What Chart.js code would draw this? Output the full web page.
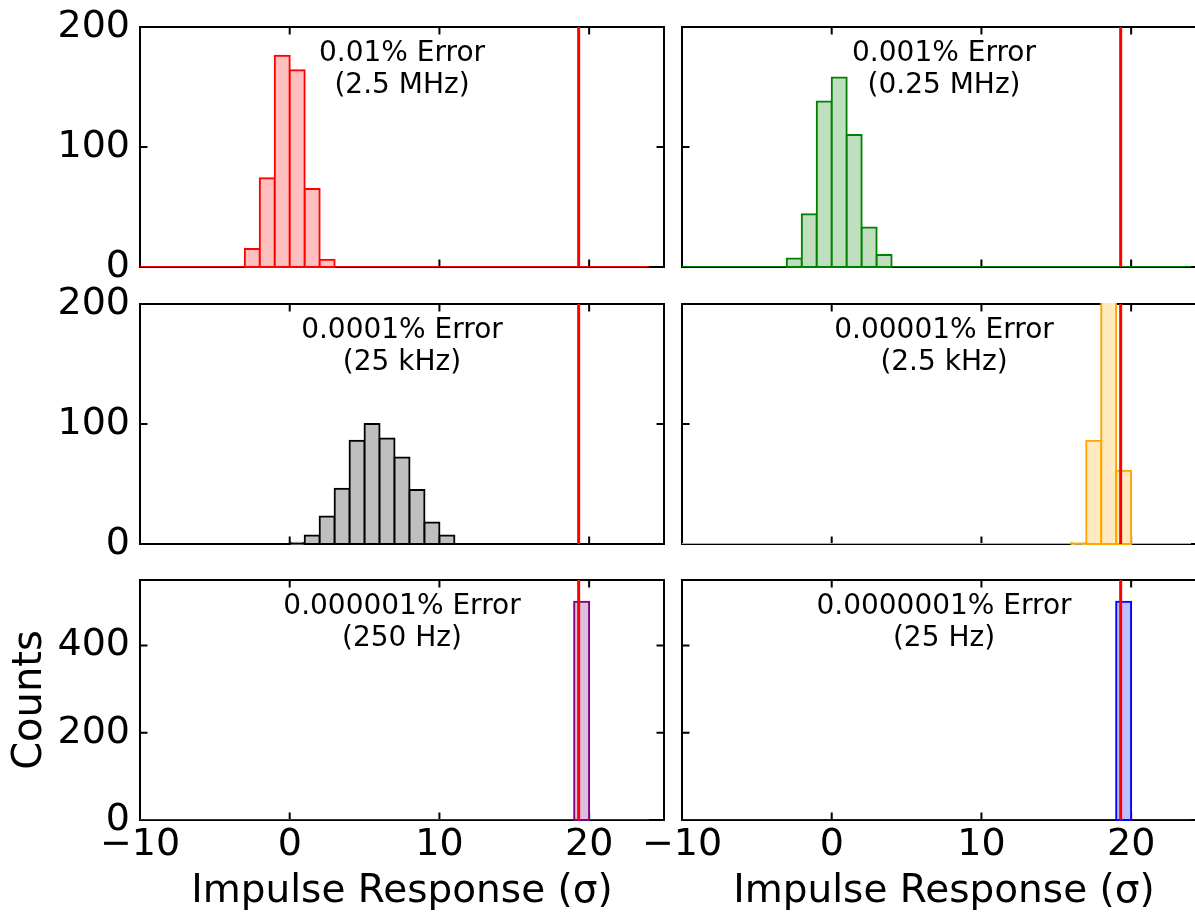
<!DOCTYPE html>
<html>
<head>
<meta charset="utf-8">
<script src="https://cdn.jsdelivr.net/npm/chart.js@4.4.1/dist/chart.umd.min.js"></script>
<style>
  html, body { margin: 0; padding: 0; background: #fff; overflow: hidden; width: 1195px; height: 912px; }
  canvas { position: absolute; left: 0; top: -60px; }
</style>
</head>
<body>
<canvas id="p0" width="1220" height="1020"></canvas>
<canvas id="p1" width="1220" height="1020"></canvas>
<canvas id="p2" width="1220" height="1020"></canvas>
<canvas id="p3" width="1220" height="1020"></canvas>
<canvas id="p4" width="1220" height="1020"></canvas>
<canvas id="p5" width="1220" height="1020"></canvas>
<script>
// ---- data ----
// unit-width histogram bins covering [-10, 24)
const binRange = [-10, 24];
const xLimits = [-10, 25];
const thresholdSigma = 19.3;            // detection threshold (vertical line)

// counts of each non-empty run of bins, with the left edge of its first bin
const counts_1e2 = [15, 74, 176, 164, 65, 6];      const start_1e2 = -3;
const counts_1e3 = [7, 44, 138, 158, 110, 33, 10]; const start_1e3 = -3;
const counts_1e4 = [1, 7, 23, 46, 86, 100, 88, 72, 45, 18, 7]; const start_1e4 = 0;
const counts_1e5 = [1, 86, 352, 61];               const start_1e5 = 16;
const counts_1e6 = [500];                          const start_1e6 = 19;
const counts_1e7 = [500];                          const start_1e7 = 19;

const errorLabels = ['0.01% Error', '0.001% Error', '0.0001% Error', '0.00001% Error', '0.000001% Error', '0.0000001% Error'];
const rateLabels  = ['(2.5 MHz)', '(0.25 MHz)', '(25 kHz)', '(2.5 kHz)', '(250 Hz)', '(25 Hz)'];

const xTicks = [-10, 0, 10, 20];
const xTickLabels = ['\u221210', '0', '10', '20'];
const yTicksSmall = [0, 100, 200];
const yTickLabelsSmall = ['0', '100', '200'];
const yTicksLarge = [0, 200, 400];
const yTickLabelsLarge = ['0', '200', '400'];
const yMaxByRow = [200, 200, 550];

const xTitle = 'Impulse Response (\u03c3)';
const yTitle = 'Counts';

// ---- styling ----
const edgeColors = ['#ff0000', '#008000', '#000000', '#ffa500', '#800080', '#0000ff'];
const fillColors = ['#ffbfbf', '#bfdfbf', '#bfbfbf', '#ffe9bf', '#dfbfdf', '#bfbfff'];
const panelCounts = [counts_1e2, counts_1e3, counts_1e4, counts_1e5, counts_1e6, counts_1e7];
const panelStarts = [start_1e2, start_1e3, start_1e4, start_1e5, start_1e6, start_1e7];

// ---- layout (pixels) ----
// canvases sit 60px above the page so the top row has room for its tick labels
const CANVAS_W = 1220, CANVAS_H = 1020, SHIFT = 60;
const colLeft = [140, 682], plotW = 524;
const rowTop = [27, 304, 580], plotH = 240;
const Y_AXIS_W = 136, X_AXIS_H = 100;
const FONT = '"DejaVu Sans", sans-serif';

Chart.defaults.font.family = FONT;
Chart.defaults.color = '#000';

function histogramData(counts, start) {
  const pts = [];
  for (let e = binRange[0]; e < binRange[1]; e++) {
    const k = e - start;
    pts.push({ x: e + 0.5, y: (k >= 0 && k < counts.length) ? counts[k] : 0 });
  }
  return pts;
}

// axes frame with inward ticks on all four sides
const framePlugin = {
  id: 'frame',
  beforeDatasetsDraw(chart) {
    const { ctx, chartArea: a, scales } = chart;
    const tick = 7.5;
    ctx.save();
    ctx.strokeStyle = '#000';
    ctx.lineWidth = 2;
    ctx.strokeRect(a.left, a.top, a.right - a.left, a.bottom - a.top);
    ctx.beginPath();
    scales.x.ticks.forEach(t => {
      const px = scales.x.getPixelForValue(t.value);
      ctx.moveTo(px, a.bottom); ctx.lineTo(px, a.bottom - tick);
      ctx.moveTo(px, a.top); ctx.lineTo(px, a.top + tick);
    });
    scales.y.ticks.forEach(t => {
      const py = scales.y.getPixelForValue(t.value);
      ctx.moveTo(a.left, py); ctx.lineTo(a.left + tick, py);
      ctx.moveTo(a.right, py); ctx.lineTo(a.right - tick, py);
    });
    ctx.stroke();
    ctx.restore();
  }
};

// two-line caption centred near the top of each panel
const notePlugin = {
  id: 'panelNote',
  afterDatasetsDraw(chart, args, opts) {
    const { ctx, chartArea: a } = chart;
    ctx.save();
    ctx.font = '28px ' + FONT;
    ctx.fillStyle = '#000';
    ctx.textAlign = 'center';
    ctx.textBaseline = 'alphabetic';
    const cx = (a.left + a.right) / 2;
    opts.lines.forEach((t, k) => ctx.fillText(t, cx, a.top + 34 + k * 31.5));
    ctx.restore();
  }
};

for (let i = 0; i < 6; i++) {
  const row = Math.floor(i / 2), col = i % 2;
  const L = colLeft[col], R = L + plotW, T = rowTop[row] + SHIFT, B = T + plotH;
  const bottomRow = row === 2, leftCol = col === 0;
  const yTicks = row === 2 ? yTicksLarge : yTicksSmall;
  const yLabels = row === 2 ? yTickLabelsLarge : yTickLabelsSmall;

  new Chart(document.getElementById('p' + i), {
    type: 'bar',
    data: {
      datasets: [
        {
          type: 'line',
          data: [{ x: thresholdSigma, y: 0 }, { x: thresholdSigma, y: yMaxByRow[row] }],
          borderColor: '#ff0000',
          borderWidth: 3,
          pointRadius: 0,
          fill: false,
          tension: 0
        },
        {
          type: 'line',
          data: [{ x: binRange[0], y: 0 }, { x: binRange[1], y: 0 }],
          borderColor: edgeColors[i],
          borderWidth: 2,
          pointRadius: 0,
          fill: false,
          tension: 0
        },
        {
          type: 'bar',
          data: histogramData(panelCounts[i], panelStarts[i]),
          backgroundColor: fillColors[i],
          borderColor: edgeColors[i],
          borderWidth: 2,
          borderSkipped: false,
          inflateAmount: 1,
          barPercentage: 1,
          categoryPercentage: 1,
          clip: 1
        }
      ]
    },
    options: {
      responsive: false,
      animation: false,
      devicePixelRatio: 1,
      events: [],
      layout: {
        padding: {
          left: L - Y_AXIS_W,
          right: CANVAS_W - R,
          top: T,
          bottom: CANVAS_H - B - X_AXIS_H
        }
      },
      plugins: {
        legend: { display: false },
        tooltip: { enabled: false },
        panelNote: { lines: [errorLabels[i], rateLabels[i]] }
      },
      scales: {
        x: {
          type: 'linear',
          position: 'bottom',
          min: xLimits[0],
          max: xLimits[1],
          offset: false,
          grid: { display: false, drawTicks: false, offset: false },
          border: { display: false },
          afterBuildTicks: s => { s.ticks = xTicks.map(v => ({ value: v })); },
          afterFit: s => { s.height = X_AXIS_H; },
          ticks: {
            display: bottomRow,
            autoSkip: false,
            maxRotation: 0,
            minRotation: 0,
            padding: 2,
            font: { size: 38 },
            callback: v => xTickLabels[xTicks.indexOf(v)]
          },
          title: {
            display: bottomRow,
            text: xTitle,
            font: { size: 39 },
            padding: { top: 0, bottom: 5 }
          }
        },
        y: {
          type: 'linear',
          position: 'left',
          min: 0,
          max: yMaxByRow[row],
          offset: false,
          grid: { display: false, drawTicks: false },
          border: { display: false },
          afterBuildTicks: s => { s.ticks = yTicks.map(v => ({ value: v })); },
          afterFit: s => { s.width = Y_AXIS_W; },
          ticks: {
            display: leftCol,
            autoSkip: false,
            padding: 10,
            font: { size: 38 },
            callback: v => yLabels[yTicks.indexOf(v)]
          },
          title: {
            display: leftCol && bottomRow,
            text: yTitle,
            font: { size: 40 },
            padding: { top: 3, bottom: 0 }
          }
        }
      }
    },
    plugins: [framePlugin, notePlugin]
  });
}
</script>
</body>
</html>
